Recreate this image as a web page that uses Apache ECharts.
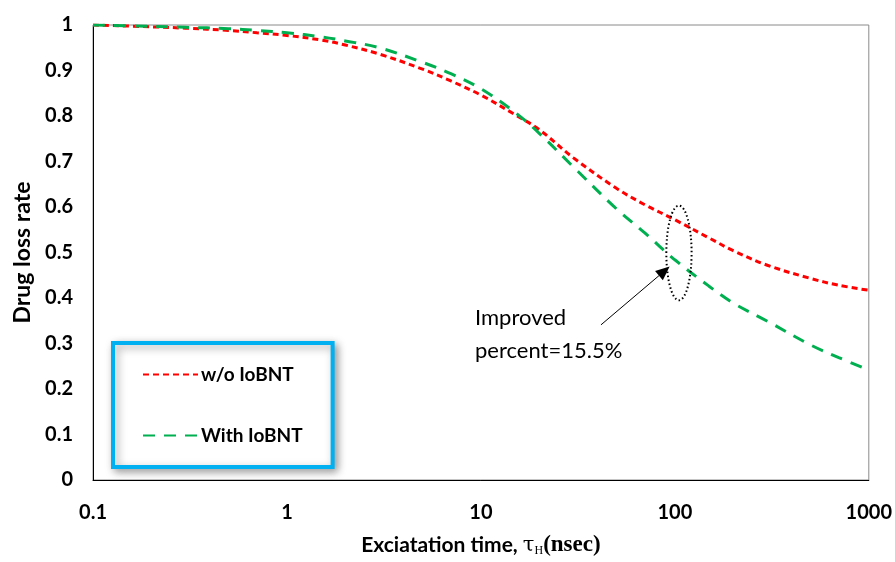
<!DOCTYPE html>
<html>
<head>
<meta charset="utf-8">
<script src="https://cdn.jsdelivr.net/npm/echarts@6/dist/echarts.min.js"></script>
<style>
  html, body { margin: 0; padding: 0; background: #fff; }
  #chart { width: 895px; height: 562px; }
</style>
</head>
<body>
<div id="chart"></div>
<script>
// Excitation time (ns), logarithmic axis
const excitationTime = [0.1, 0.2, 0.3, 0.5, 0.7, 1, 1.5, 2, 3, 5, 7, 10, 15, 20, 30, 50, 70, 100, 150, 200, 300, 500, 700, 1000];
// Drug loss rate without IoBNT
const lossWithout = [1.0, 0.996, 0.993, 0.988, 0.983, 0.977, 0.967, 0.956, 0.936, 0.903, 0.877, 0.846, 0.803, 0.770, 0.708, 0.641, 0.605, 0.572, 0.532, 0.504, 0.472, 0.443, 0.428, 0.417];
// Drug loss rate with IoBNT
const lossWith = [1.0, 0.997, 0.995, 0.992, 0.988, 0.983, 0.974, 0.965, 0.950, 0.918, 0.893, 0.860, 0.808, 0.762, 0.688, 0.596, 0.543, 0.484, 0.426, 0.389, 0.349, 0.297, 0.269, 0.242];
const seriesNames = ['w/o IoBNT', 'With IoBNT'];
const yTicks = { min: 0, max: 1, step: 0.1 };
const xRange = { min: 0.1, max: 1000 };

const font = 'Lato, "Open Sans", "DejaVu Sans", sans-serif';
const chart = echarts.init(document.getElementById('chart'), null, { renderer: 'canvas' });

const pair = (xs, ys) => xs.map((x, i) => [x, ys[i]]);

chart.setOption({
  animation: false,
  backgroundColor: '#fff',
  grid: {
    left: 93, top: 25, right: 23, bottom: 79,
    show: true, borderColor: '#8a8a8a', borderWidth: 1
  },
  xAxis: {
    type: 'log', logBase: 10, min: xRange.min, max: xRange.max,
    axisLine: { show: true, onZero: false, lineStyle: { color: '#000', width: 1 } },
    axisTick: { show: false },
    splitLine: { show: false },
    minorTick: { show: false },
    axisLabel: {
      margin: 23, color: '#000', fontFamily: font, fontWeight: 'bold', fontSize: 20,
      formatter: v => String(+v.toPrecision(6))
    },
    name: '{a|Exciatation time, }{t|τ}{s|H}{n|(nsec)}',
    nameLocation: 'middle', nameGap: 54,
    nameTextStyle: {
      rich: {
        a: { fontFamily: font, fontWeight: 'bold', fontSize: 21, color: '#000' },
        t: { fontFamily: '"DejaVu Serif", "Liberation Serif", serif', fontSize: 21, color: '#000' },
        s: { fontFamily: '"Liberation Serif", serif', fontSize: 12, color: '#000', verticalAlign: 'bottom', padding: [10, 0, 0, 0] },
        n: { fontFamily: '"Liberation Serif", serif', fontWeight: 'bold', fontSize: 23, color: '#000' }
      }
    }
  },
  yAxis: {
    type: 'value', min: yTicks.min, max: yTicks.max, interval: yTicks.step,
    axisLine: { show: true, lineStyle: { color: '#000', width: 1 } },
    axisTick: { show: false },
    splitLine: { show: false },
    axisLabel: {
      margin: 20, color: '#000', fontFamily: font, fontWeight: 'bold', fontSize: 20,
      formatter: v => String(+v.toFixed(1))
    },
    name: 'Drug loss rate',
    nameLocation: 'middle', nameGap: 58, nameRotate: 90,
    nameTextStyle: { fontFamily: font, fontWeight: 'bold', fontSize: 23, color: '#000' }
  },
  legend: {
    orient: 'vertical', left: 113, top: 343,
    padding: [22, 30, 22, 29],
    itemWidth: 55, itemHeight: 14, itemGap: 42,
    backgroundColor: '#fff',
    borderColor: '#00B0F0', borderWidth: 4, borderRadius: 0,
    shadowBlur: 8, shadowColor: 'rgba(0,0,0,0.35)', shadowOffsetX: 3, shadowOffsetY: 3,
    itemStyle: { opacity: 0 },
    textStyle: { fontFamily: font, fontWeight: 'bold', fontSize: 19, color: '#000', padding: [0, 0, 0, -2] },
    data: seriesNames
  },
  series: [
    {
      name: seriesNames[0], type: 'line', smooth: 0.35, symbol: 'none',
      data: pair(excitationTime, lossWithout),
      lineStyle: { color: '#FF0000', width: 3, type: [6, 4] },
      itemStyle: { color: '#FF0000' }
    },
    {
      name: seriesNames[1], type: 'line', smooth: 0.35, symbol: 'none',
      data: pair(excitationTime, lossWith),
      lineStyle: { color: '#00B050', width: 3, type: [12, 9] },
      itemStyle: { color: '#00B050' }
    }
  ]
});

// Annotation: dotted ellipse around the gap at 100 ns and an arrow to it
function drawAnnotation() {
  const c = chart.convertToPixel({ gridIndex: 0 }, [105, 0.499]);
  const top = chart.convertToPixel({ gridIndex: 0 }, [105, 0.603]);
  const side = chart.convertToPixel({ gridIndex: 0 }, [122, 0.499]);
  const tip = chart.convertToPixel({ gridIndex: 0 }, [94, 0.469]);
  const tail = chart.convertToPixel({ gridIndex: 0 }, [41.6, 0.341]);
  const rx = side[0] - c[0];
  const ry = c[1] - top[1];
  const ang = Math.atan2(tip[1] - tail[1], tip[0] - tail[0]);
  const headLen = 14, headW = 6;
  const bx = tip[0] - headLen * Math.cos(ang), by = tip[1] - headLen * Math.sin(ang);
  const nx = -Math.sin(ang) * headW, ny = Math.cos(ang) * headW;
  chart.setOption({
    graphic: [
      {
        type: 'ellipse', shape: { cx: c[0], cy: c[1], rx: rx, ry: ry },
        style: { fill: 'none', stroke: '#000', lineWidth: 2, lineDash: [1.5, 2.5] }, z: 10
      },
      {
        type: 'line', shape: { x1: tail[0], y1: tail[1], x2: bx, y2: by },
        style: { stroke: '#000', lineWidth: 1 }, z: 10
      },
      {
        type: 'polygon', shape: { points: [[tip[0], tip[1]], [bx + nx, by + ny], [bx - nx, by - ny]] },
        style: { fill: '#000' }, z: 10
      },
      {
        type: 'text', left: 475, top: 301,
        style: { text: 'Improved\npercent=15.5%', fill: '#000', font: '22px ' + font, lineHeight: 33 }, z: 10
      }
    ]
  });
}
drawAnnotation();
</script>
</body>
</html>
